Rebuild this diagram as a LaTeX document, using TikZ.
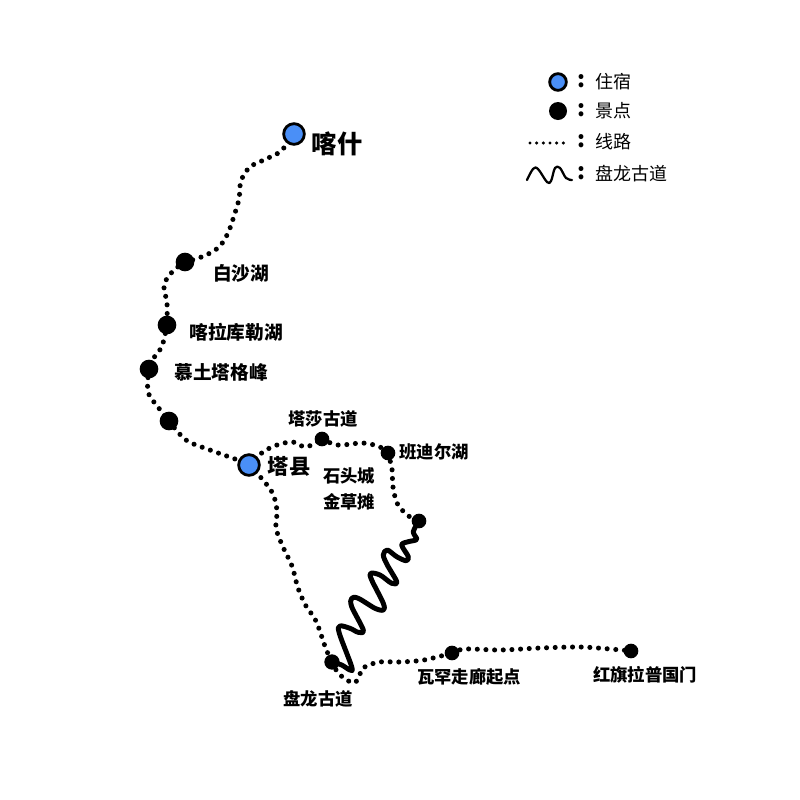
\documentclass[tikz,border=0pt]{standalone}
\usepackage{fontspec}
\setmainfont{Noto Sans CJK SC}
\usetikzlibrary{backgrounds}
\tikzset{
  x=0.75pt,y=-0.75pt,
  stay/.style={circle,draw=black,line width=2.1pt,fill=stayblue,minimum size=15.5pt,inner sep=0pt},
  legstay/.style={stay,minimum size=12.5pt},
  spot/.style={circle,fill=black,minimum size=14pt,inner sep=0pt},
  smallspot/.style={circle,fill=black,minimum size=11pt,inner sep=0pt},
  route/.style={line width=3.8pt,line cap=round,dash pattern=on 0pt off 6.5pt,black},
  legroute/.style={line width=2.6pt,line cap=round,dash pattern=on 0pt off 5pt,black},
  wave/.style={line width=3.7pt,line cap=round,line join=round,black},
  legwave/.style={line width=1.7pt,line cap=round,line join=round,black},
  lab/.style={font=\fontsize{13pt}{15pt}\selectfont\bfseries,inner sep=0pt},
  biglab/.style={font=\fontsize{14pt}{16pt}\selectfont\bfseries,inner sep=0pt},
  tall/.style={font=\fontsize{19pt}{22pt}\selectfont\bfseries,inner sep=0pt},
  mid/.style={font=\fontsize{16pt}{18pt}\selectfont\bfseries,inner sep=0pt},
  leg/.style={font=\fontsize{13.5pt}{15pt}\selectfont,inner sep=0pt},
  legcolon/.style={font=\fontsize{17pt}{18pt}\selectfont\bfseries,inner sep=0pt},
}
\definecolor{stayblue}{HTML}{4A8FF7}
\begin{document}
\begin{tikzpicture}
\useasboundingbox (0,0) rectangle (800,800);
% places
\node[stay] (kashi) at (294,134) {};
\node[spot] (baisha) at (185,262) {};
\node[spot] (kala) at (167,325) {};
\node[spot] (muz) at (149,369) {};
\node[spot] (p5) at (169,421) {};
\node[stay] (taxian) at (249,465) {};
\node[smallspot] (tasha) at (322,439) {};
\node[smallspot] (bandi) at (388,453) {};
\node[smallspot] (top) at (419,521) {};
\node[spot,minimum size=11.5pt] (panlong) at (332,662) {};
\node[smallspot] (wakhan) at (452,653) {};
\node[smallspot] (hongqi) at (631,651) {};
% labels
\node[tall] (tkashi) at (337,144) {喀什};
\node[biglab] (tbaisha) at (241,273) {白沙湖};
\node[biglab] (tkala) at (236,332) {喀拉库勒湖};
\node[biglab] (tmuz) at (221,372) {慕土塔格峰};
\node[mid] (ttaxian) at (289,466) {塔县};
\node[lab] (ttasha) at (323,419) {塔莎古道};
\node[lab] (tbandi) at (434,452) {班迪尔湖};
\node[lab] (tstone) at (349,476) {石头城};
\node[lab] (tgrass) at (349,502) {金草摊};
\node[lab] (tpan) at (318,699) {盘龙古道};
\node[lab] (twak) at (469,677) {瓦罕走廊起点};
\node[lab] (thong) at (645,675) {红旗拉普国门};
% legend
\node[legstay] (lstay) at (558,82) {};
\node[spot,minimum size=13.5pt] (lspot) at (558,111) {};
\coordinate (lrouteA) at (530,143);
\coordinate (lrouteB) at (566,143);
\coordinate (lwaveA) at (527,180);
\coordinate (lwaveB) at (572,180);
\draw[legroute] (lrouteA) -- (lrouteB);
\draw[legwave] plot[smooth,tension=0.6] coordinates {(lwaveA) (533,169) (538,169) (547,182) (551,181) (555,168) (560,168) (566,178) (lwaveB)};
\foreach \yy/\nm in {81/c1,110/c2,141/c3,173/c4}{\node[legcolon] (\nm) at (581,\yy) {:};}
\node[leg,anchor=west] (lt1) at (595,82) {住宿};
\node[leg,anchor=west] (lt2) at (595,111) {景点};
\node[leg,anchor=west] (lt3) at (595,142) {线路};
\node[leg,anchor=west] (lt4) at (595,174) {盘龙古道};
% connectors
\begin{pgfonlayer}{background}
\draw[route] plot[smooth,tension=0.55] coordinates {(kashi) (281,151) (266,159) (250,167) (241,181) (239,199) (234,216) (228,233) (219,247) (204,256) (baisha)};
\draw[route] plot[smooth,tension=0.55] coordinates {(baisha) (173,271) (164,285) (167,303) (kala)};
\draw[route] plot[smooth,tension=0.55] coordinates {(kala) (162,346) (153,359) (muz)};
\draw[route] plot[smooth,tension=0.55] coordinates {(muz) (148,392) (158,407) (p5)};
\draw[route] plot[smooth,tension=0.55] coordinates {(p5) (186,440) (210,450) (235,459) (taxian)};
\draw[route] plot[smooth,tension=0.55] coordinates {(taxian) (263,480) (273,494) (277,511) (276,528) (283,547) (292,566) (298,588) (306,606) (316,621) (326,649) (panlong)};
\draw[route] plot[smooth,tension=0.55] coordinates {(panlong) (339,674) (353,683) (359,677) (363,668) (379,662) (399,662) (424,660) (wakhan)};
\draw[route] plot[smooth,tension=0.55] coordinates {(wakhan) (465,649) (500,650) (540,648) (580,647) (610,649) (hongqi)};
\draw[route] plot[smooth,tension=0.55] coordinates {(taxian) (263,452) (277,445) (293,442) (306,447) (tasha)};
\draw[route] plot[smooth,tension=0.55] coordinates {(tasha) (338,445) (363,443) (380,447) (bandi)};
\draw[route] plot[smooth,tension=0.55] coordinates {(bandi) (392,469) (393,487) (398,505) (410,517) (top)};
\end{pgfonlayer}
\draw[wave] plot[smooth,tension=0.55] coordinates {(top) (413.3,531.7) (416.7,539.3) (408.3,541.7) (401.7,545) (408.3,556.7) (406,560.7) (396.7,556.7) (387.3,550) (383.3,555) (387.3,565) (396.7,581.7) (391.7,583.3) (380,575) (370.7,573.3) (371.7,580) (383.3,603.3) (383.3,610) (375,608.3) (358.3,598.3) (351.7,598.3) (351.7,606.7) (363.3,630) (358.3,632.3) (350,628.3) (340,626) (339.3,633.3) (351.7,666.7) (350,670) (341.7,665) (panlong)};
\end{tikzpicture}
\end{document}
